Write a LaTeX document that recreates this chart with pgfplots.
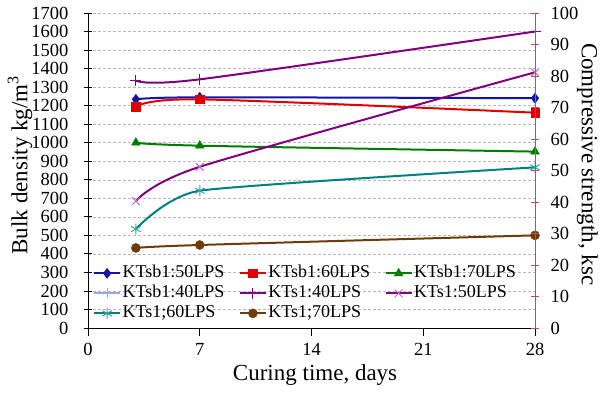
\documentclass[border=0pt]{standalone}
\usepackage{fontspec}
\setmainfont{Liberation Serif}
\usepackage{pgfplots}
\pgfplotsset{compat=1.18}
\definecolor{cBlue}{RGB}{20,20,170}
\definecolor{cRed}{RGB}{225,0,0}
\definecolor{cGreen}{RGB}{0,125,0}
\definecolor{cLBlue}{RGB}{150,170,220}
\definecolor{cPurple}{RGB}{128,0,128}
\definecolor{cPurpleL}{RGB}{190,110,190}
\definecolor{cTeal}{RGB}{0,128,128}
\definecolor{cTealL}{RGB}{60,160,160}
\definecolor{cBrown}{RGB}{110,60,10}
\definecolor{cAxisR}{RGB}{192,80,77}
\begin{document}
\begin{tikzpicture}
\useasboundingbox (-88pt,-64pt) rectangle (517pt,328pt);
\begin{axis}[
  at={(0pt,0pt)}, anchor=south west,
  scale only axis, width=447pt, height=315pt,
  xmin=0, xmax=28, ymin=0, ymax=1700,
  xtick={0,7,14,21,28}, ytick distance=100,
  axis x line*=bottom, axis y line*=left,
  axis line style={-, black, line width=0.8pt},
  ymajorgrids, grid style={gray!55, dash pattern=on 3pt off 2pt, line width=0.5pt},
  tick align=center, major tick length=8pt,
  tick style={black, line width=0.8pt},
  x tick style={yshift=-4pt},
  xticklabel={\pgfmathprintnumber[assume math mode=true]{\tick}},
  yticklabel={\pgfmathprintnumber[assume math mode=true,1000 sep={}]{\tick}},
  ticklabel style={font=\rmfamily\fontsize{18.5}{20}\selectfont},
  yticklabel style={xshift=-12pt},
  xticklabel style={yshift=-8pt},
  xlabel={Curing time, days},
  ylabel={Bulk density kg/m\textsuperscript{3}},
  label style={font=\rmfamily\fontsize{23}{25}\selectfont},
  xlabel style={at={(axis description cs:0.508,-0.148)}, anchor=center},
  ylabel style={at={(axis description cs:-0.152,0.517)}, anchor=center},
  legend columns=3,
  legend cell align=left,
  legend style={draw=none, fill=none, inner sep=0pt,
    at={(rel axis cs:0.011,0.014)}, anchor=south west,
    font=\rmfamily\fontsize{18}{20}\selectfont,
    nodes={text height=13pt, text depth=4pt, inner ysep=1.5pt, inner xsep=1.5pt},
    /tikz/every even column/.append style={column sep=13pt}},
  legend image code/.code={\draw[mark repeat=2,mark phase=2] plot coordinates {(0pt,0pt) (13pt,0pt) (26pt,0pt)};},
]
\addplot[cBlue, line width=2pt, smooth, mark=diamond*, mark size=5pt, mark options={solid, line width=0.5pt}] coordinates {(3,1234) (7,1245) (28,1240)};
\addlegendentry{KTsb1:50LPS}
\addplot[cRed, line width=2pt, smooth, mark=square*, mark size=4.2pt, mark options={solid, line width=0.5pt}] coordinates {(3,1194) (7,1234) (28,1162)};
\addlegendentry{KTsb1:60LPS}
\addplot[cGreen, line width=2pt, smooth, mark=triangle*, mark size=5pt, mark options={solid, line width=0.5pt}] coordinates {(3,1000) (7,984) (28,952)};
\addlegendentry{KTsb1:70LPS}
\addlegendimage{cLBlue, line width=2pt, mark=+, mark size=5pt, mark options={solid, line width=1pt}}
\addlegendentry{KTsb1:40LPS}
\addplot[cPurple, line width=2pt, smooth, mark=+, mark size=5.5pt, mark options={solid, line width=1pt}] coordinates {(3,1335) (7,1342) (28,1600)};
\addlegendentry{KTs1:40LPS}
\addplot[cPurple, line width=2pt, smooth, tension=0.45, mark=x, mark size=5.5pt, mark options={solid, line width=1pt, cPurpleL}] coordinates {(3,685) (7,870) (28,1380)};
\addlegendentry{KTs1:50LPS}
\addplot[cTeal, line width=2pt, smooth, tension=0.3, mark=asterisk, mark size=5.5pt, mark options={solid, line width=1pt, cTealL}] coordinates {(3,534) (7,741) (28,867)};
\addlegendentry{KTs1;60LPS}
\addplot[cBrown, line width=2pt, smooth, mark=*, mark size=4.5pt, mark options={solid, line width=0.5pt}] coordinates {(3,432) (7,448) (28,500)};
\addlegendentry{KTs1;70LPS}
\end{axis}
\begin{axis}[
  at={(0pt,0pt)}, anchor=south west,
  scale only axis, width=447pt, height=315pt,
  xmin=0, xmax=28, ymin=0, ymax=100,
  hide x axis, axis y line*=right,
  axis line style={-, cAxisR, line width=1pt},
  ytick distance=10,
  tick align=center, major tick length=8pt,
  tick style={cAxisR, line width=0.8pt},
  yticklabel={\pgfmathprintnumber[assume math mode=true]{\tick}},
  ticklabel style={font=\rmfamily\fontsize{18.5}{20}\selectfont},
  yticklabel style={xshift=8pt},
  ylabel={Compressive strength, ksc},
  label style={font=\rmfamily\fontsize{23}{25}\selectfont},
  ylabel style={at={(axis description cs:1.117,0.52)}, anchor=center, rotate=180},
]
\end{axis}
\end{tikzpicture}
\end{document}
